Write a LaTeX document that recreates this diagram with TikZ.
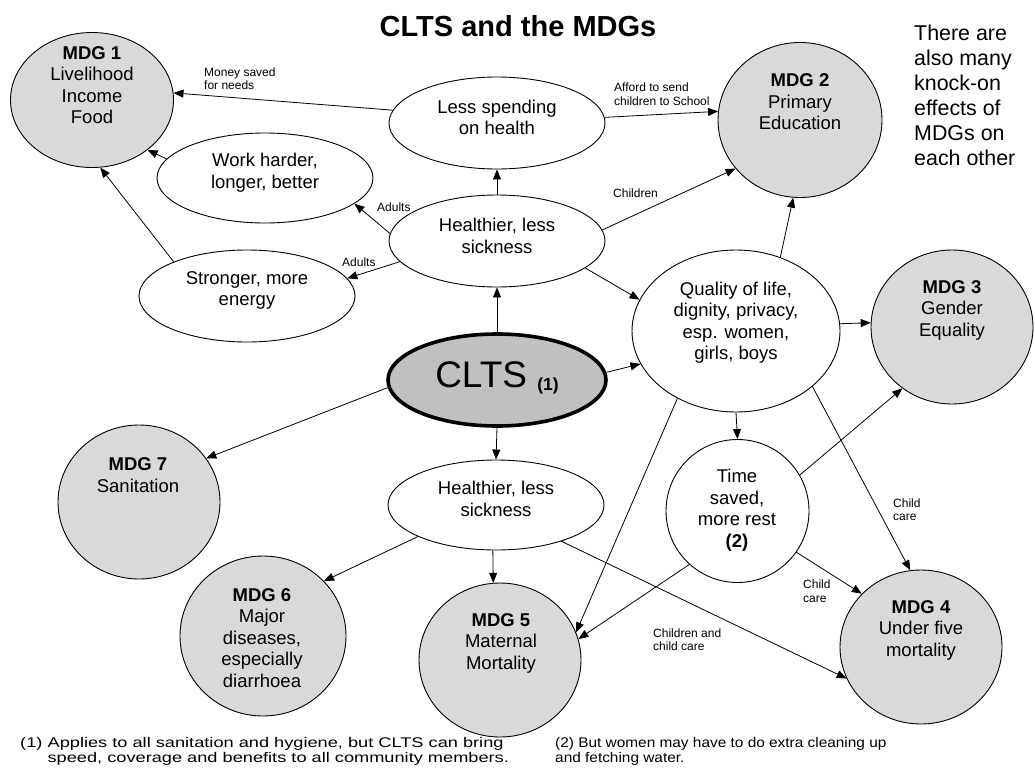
\documentclass[tikz,border=0pt]{standalone}
\usepackage{fontspec}
\setmainfont{Liberation Sans}
\usetikzlibrary{shapes.geometric,arrows.meta}
\definecolor{mdggray}{RGB}{217,217,217}
\definecolor{cltsgray}{RGB}{192,192,192}
\tikzset{
  mdg/.style={ellipse, draw, fill=mdggray, line width=0.9pt, inner sep=0pt},
  bub/.style={ellipse, draw, fill=white, line width=0.9pt, inner sep=0pt},
  txt/.style={align=center, font=\fontsize{18.5}{21.5}\selectfont, inner sep=0pt},
  small/.style={align=left, font=\fontsize{12}{13.5}\selectfont, inner sep=0pt, anchor=west},
  foot/.style={anchor=west, inner sep=0pt, font=\fontsize{14}{16.5}\selectfont},
  arr/.style={-{Triangle[length=10pt,width=8pt]}, line width=0.8pt},
}
\begin{document}
\begin{tikzpicture}[x=1pt,y=-1pt]
\useasboundingbox[fill=white] (0,0) rectangle (1035,776);
% title
\node[font=\fontsize{29}{33}\selectfont\bfseries, inner sep=0pt] (title) at (518,26) {CLTS and the MDGs};
\node[anchor=west, align=left, inner sep=0pt, font=\fontsize{21.4}{25}\selectfont] (note) at (914,95)
  {There are\\also many\\knock-on\\effects of\\MDGs on\\each other};
% MDG circles
\node[mdg, minimum width=163pt, minimum height=135pt] (m1) at (92,100) {};
\node[mdg, minimum width=164pt, minimum height=155pt] (m2) at (800,120) {};
\node[mdg, minimum width=162pt, minimum height=154pt] (m3) at (952,327) {};
\node[mdg, minimum width=162pt, minimum height=154pt] (m4) at (921,647) {};
\node[mdg, minimum width=162pt, minimum height=154pt] (m5) at (500,660) {};
\node[mdg, minimum width=166pt, minimum height=160pt] (m6) at (263,636) {};
\node[mdg, minimum width=162pt, minimum height=154pt] (m7) at (139,502) {};
\node[txt] (t1) at (92,85) {\textbf{MDG 1}\\Livelihood\\Income\\Food};
\node[txt] (t2) at (800,102) {\textbf{MDG 2}\\Primary\\Education};
\node[txt] (t3) at (952,310) {\textbf{MDG 3}\\Gender\\Equality};
\node[txt] (t4) at (921,630) {\textbf{MDG 4}\\Under five\\mortality};
\node[txt] (t5) at (501,643) {\textbf{MDG 5}\\Maternal\\Mortality};
\node[txt] (t6) at (262,638) {\textbf{MDG 6}\\Major\\diseases,\\especially\\diarrhoea};
\node[txt] (t7) at (138,475) {\textbf{MDG 7}\\Sanitation};
% CLTS
\node[ellipse, draw, fill=cltsgray, line width=3.6pt, inner sep=0pt, minimum width=218pt, minimum height=92pt] (clts) at (497,380) {};
\node[inner sep=0pt] (tc) at (497,378) {\fontsize{37}{40}\selectfont CLTS \raisebox{-3pt}{\fontsize{17.5}{20}\selectfont\bfseries(1)}};
% white bubbles
\node[bub, minimum width=216pt, minimum height=92pt] (less) at (497,123) {};
\node[bub, minimum width=216pt, minimum height=90pt] (work) at (265,178) {};
\node[bub, minimum width=216pt, minimum height=92pt] (strong) at (247,296) {};
\node[bub, minimum width=216pt, minimum height=92pt] (hup) at (497,241) {};
\node[bub, minimum width=208pt, minimum height=162pt] (qual) at (736,331) {};
\node[bub, minimum width=143pt, minimum height=143pt] (time) at (737.5,511) {};
\node[bub, minimum width=216pt, minimum height=90pt] (hlow) at (496,505) {};
\node[txt] (tl) at (497,117.5) {Less spending\\on health};
\node[txt] (tw) at (265,172.5) {Work harder,\\longer, better};
\node[txt] (ts) at (247,290.5) {Stronger, more\\energy};
\node[txt] (th) at (497,236) {Healthier, less\\sickness};
\node[txt] (tq) at (736,322.5) {Quality of life,\\dignity, privacy,\\esp. women,\\girls, boys};
\node[txt] (tt) at (737,510) {Time\\saved,\\more rest\\\textbf{(2)}};
\node[txt] (tlo) at (496,499) {Healthier, less\\sickness};
% connectors
\draw[arr] (less.173) -- (m1.5);
\draw[arr] (less.3) -- (m2.174);
\draw[arr] (hup.north) -- (less.south);
\draw[arr] (hup.176) -- (work.344);
\draw[arr] (hup.192) -- (strong.10);
\draw[arr] (work.169) -- (m1.318);
\draw[arr] (strong.155) -- (m1.277);
\draw[arr] (hup.6) -- (m2.217);
\draw[arr] (hup.343) -- (qual.162);
\draw[arr] (clts.north) -- (hup.south);
\draw[arr] (clts.4) -- (qual.199);
\draw[arr] (clts.184) -- (m7.33);
\draw[arr] (clts.south) -- (hlow.north);
\draw[arr] (qual.59) -- (m2.265);
\draw[arr] (qual.4) -- (m3.177);
\draw[arr] (qual.south) -- (time.north);
\draw[arr] (qual.324) -- (m4.98);
\draw[arr] (qual.229) -- (m5.20);
\draw[arr] (time.30) -- (m3.231);
\draw[arr] (time.228) -- (m5.15);
\draw[arr] (time.325) -- (m4.138);
\draw[arr] (hlow.202) -- (m6.42);
\draw[arr] (hlow.266) -- (m5.95);
\draw[arr] (hlow.331) -- (m4.203);
% connector labels
\node[small] (l1) at (204,78.5) {Money saved\\for needs};
\node[small] (l2) at (614,94) {Afford to send\\children to School};
\node[small] (l3) at (377,207) {Adults};
\node[small] (l4) at (342,262) {Adults};
\node[small] (l5) at (613,193) {Children};
\node[small] (l6) at (893,509.5) {Child\\care};
\node[small] (l7) at (803,591) {Child\\care};
\node[small] (l8) at (653,639.5) {Children and\\child care};
% footnotes
\node[foot] (fn1) at (20,752)
  {\scalebox{1.3}[1]{\begin{tabular}{@{}l@{\hspace{4pt}}l@{}}(1)&Applies to all sanitation and hygiene, but CLTS can bring\\[-1.5pt]&speed, coverage and benefits to all community members.\end{tabular}}};
\node[foot] (fn2) at (555,752)
  {\scalebox{1.1}[1]{\begin{tabular}{@{}l@{}}(2) But women may have to do extra cleaning up\\[-1.5pt]and fetching water.\end{tabular}}};
\end{tikzpicture}
\end{document}
